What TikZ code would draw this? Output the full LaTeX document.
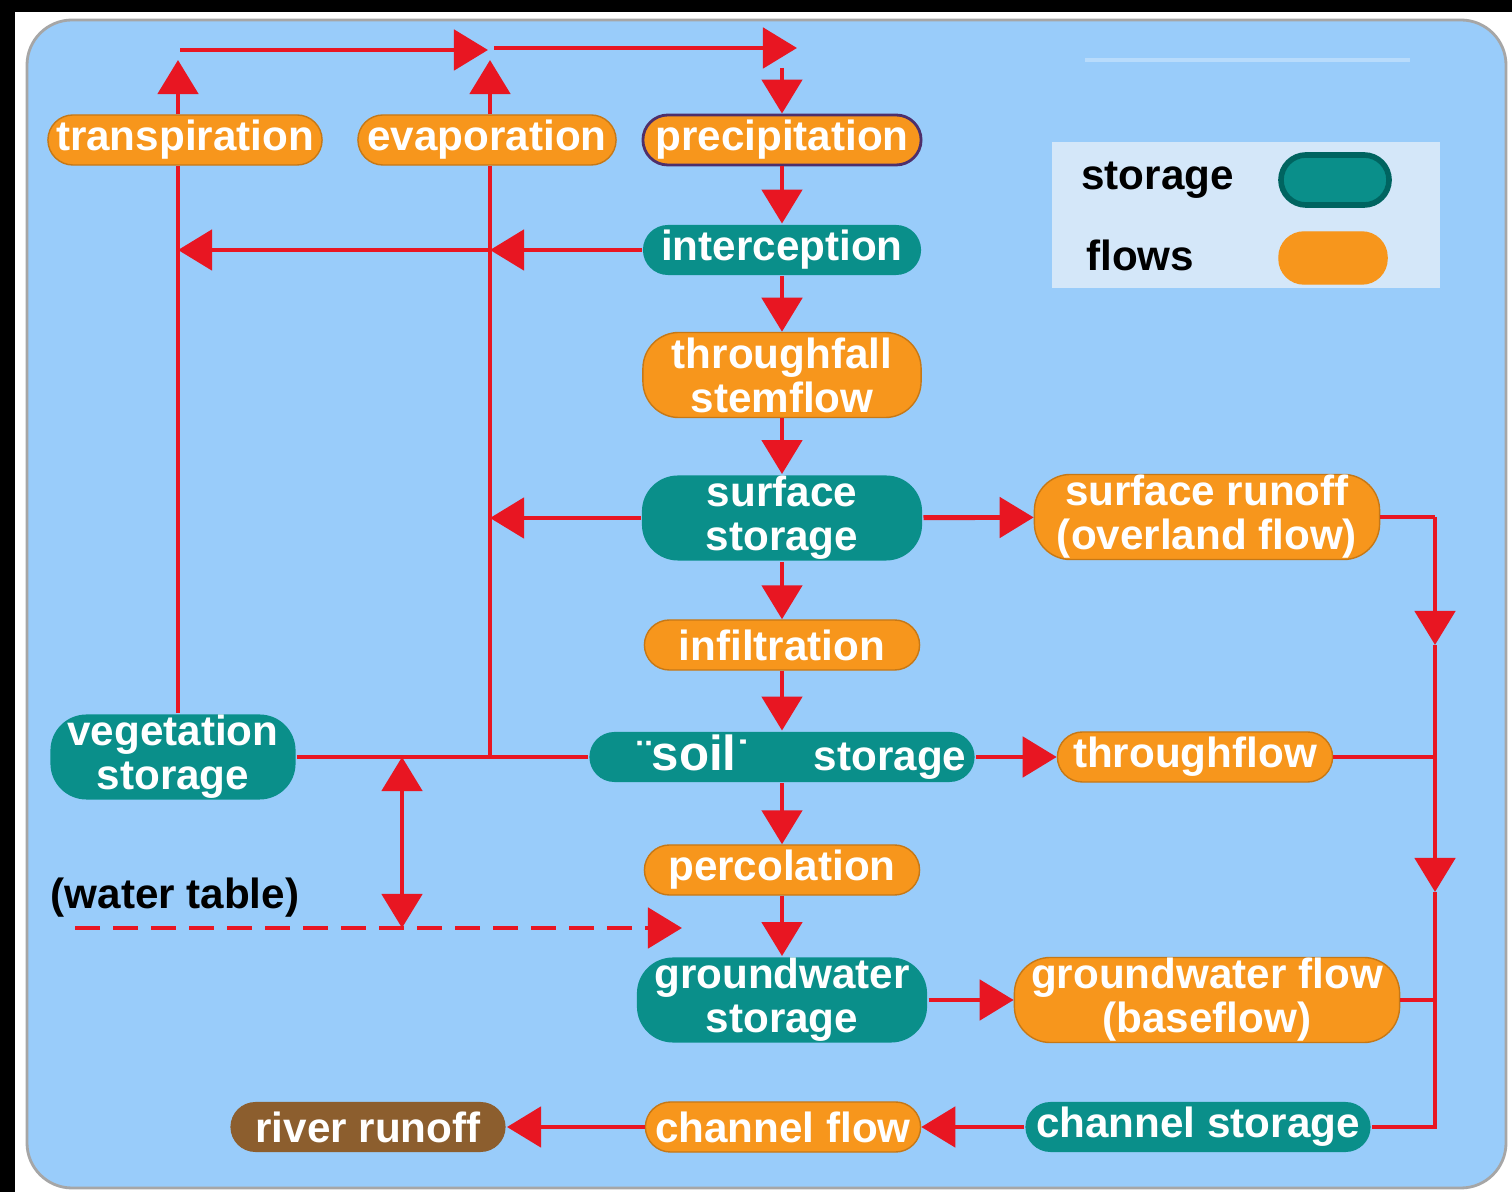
\documentclass[tikz,border=0pt]{standalone}
\usepackage{fontspec}
\setmainfont{Liberation Sans}
\usetikzlibrary{arrows.meta}
\definecolor{bgblue}{RGB}{153,204,250}
\definecolor{legbg}{RGB}{212,231,249}
\definecolor{storec}{RGB}{10,143,138}
\definecolor{storeln}{RGB}{0,100,96}
\definecolor{flowc}{RGB}{247,150,28}
\definecolor{sinkc}{RGB}{140,94,46}
\definecolor{flowred}{RGB}{232,22,34}

\begin{document}
\begin{tikzpicture}[x=0.01cm, y=-0.01cm, thick]
    \tikzset{
      box/.style={text=white, inner sep=0pt, align=center, rounded corners=0.25cm,
        minimum height=0.5cm, font=\fontsize{12}{12.5}\selectfont\bfseries},
      tall/.style={minimum height=0.85cm, rounded corners=0.36cm},
      store/.style={box, fill=storec},
      flow/.style={box, fill=flowc, draw=flowc!80!black, line width=0.4pt},
      sink/.style={box, fill=sinkc},
      keytext/.style={anchor=west, inner sep=0pt, font=\fontsize{12}{12.5}\selectfont\bfseries},
      wire/.style={draw=flowred, line width=1.4pt},
      arrow/.style={wire, -{Triangle[length=0.34cm, width=0.4cm]}},
      twoway/.style={wire, {Triangle[length=0.34cm, width=0.4cm]}-{Triangle[length=0.34cm, width=0.4cm]}},
    }
    \useasboundingbox (0,0) rectangle (1512,1192);
    % frame and panel
    \fill[white] (0,0) rectangle (1512,1192);
    \fill[black] (0,0) rectangle (1512,12);
    \fill[black] (0,0) rectangle (15,1192);
    \filldraw[fill=bgblue, draw=gray!70, rounded corners=0.45cm] (27,20) rectangle (1506,1188);
    \draw[bgblue!70!white, line width=1pt] (1085,60) -- (1410,60);

    % legend
    \node[fill=legbg, minimum width=3.88cm, minimum height=1.45cm, inner sep=0pt] (legend) at (1246,215) {};
    \node[keytext] (kstore) at (1080,180) {storage};
    \node[keytext] (kflow) at (1085,255) {flows};
    \node[store, draw=storeln, line width=1.6pt, minimum width=1.08cm, minimum height=0.5cm] (kstorebox) at (1335,180) {};
    \node[flow, draw=flowc, minimum width=1.08cm, minimum height=0.52cm] (kflowbox) at (1333,258) {};

    % nodes
    \node[flow, minimum width=2.74cm] (trans) at (185,140) {transpiration};
    \node[flow, minimum width=2.58cm] (evap) at (487,140) {evaporation};
    \node[flow, draw=blue!55!flowc!70!black, line width=0.8pt, minimum width=2.78cm] (prec) at (782,140) {precipitation};
    \node[store, minimum width=2.78cm] (intc) at (782,250) {interception};
    \node[flow, tall, minimum width=2.78cm] (thru) at (782,375) {throughfall\\stemflow};
    \node[store, tall, minimum width=2.8cm] (surf) at (782,518) {surface\\storage};
    \node[flow, tall, minimum width=3.45cm] (runoff) at (1207,517) {surface runoff\\(overland flow)};
    \node[flow, minimum width=2.75cm] (infl) at (782,645) {infiltration};
    \node[store, minimum width=3.85cm] (soil) at (782,757)
      {\hspace*{0.4cm}¨{\fontsize{14}{14}\selectfont soil}˙\hspace{1.5em}storage};
    \node[flow, minimum width=2.75cm] (thfl) at (1195,757) {throughflow};
    \node[store, tall, minimum width=2.45cm] (veg) at (173,757) {vegetation\\storage};
    \node[flow, minimum width=2.75cm] (perc) at (782,870) {percolation};
    \node[store, tall, minimum width=2.9cm] (gws) at (782,1000) {groundwater\\storage};
    \node[flow, tall, minimum width=3.85cm] (gwf) at (1207,1000) {groundwater flow\\(baseflow)};
    \node[sink, minimum width=2.75cm] (river) at (368,1127) {river runoff};
    \node[flow, minimum width=2.75cm] (chfl) at (783,1127) {channel flow};
    \node[store, minimum width=3.45cm] (chst) at (1198,1127) {channel storage};
    \node[keytext, anchor=center] (wt) at (175,898) {(water table)};

    % corner points of the connectors
    \coordinate (t1) at (178,60);
    \coordinate (t2) at (180,50);
    \coordinate (e1) at (490,60);
    \coordinate (e2) at (488,50);
    \coordinate (e3) at (494,48);
    \coordinate (p1) at (797,48);
    \coordinate (p2) at (782,68);
    \coordinate (sj) at (490,757);
    \coordinate (r1) at (1435,517);
    \coordinate (r2) at (1435,645);
    \coordinate (r3) at (1435,892);
    \coordinate (r4) at (1435,1127);
    \coordinate (d1) at (75,928);
    \coordinate (d2) at (682,928);
    \coordinate (w1) at (402,757);
    \coordinate (w2) at (402,928);

    % vertical chain
    \foreach \from/\to in {prec/intc, intc/thru, thru/surf, surf/infl, infl/soil, soil/perc, perc/gws}
      \draw[arrow] (\from.south) -- (\to.north);

    % atmosphere loop
    \draw[wire] (veg.north -| t1) -- (trans.south -| t1);
    \draw[arrow] (trans.north -| t1) -- (t1);
    \draw[wire] (sj) -- (evap.south -| e1);
    \draw[arrow] (evap.north -| e1) -- (e1);
    \draw[arrow] (t2) -- (e2);
    \draw[arrow] (e3) -- (p1);
    \draw[arrow] (p2) -- (prec.north);
    \draw[arrow] (intc.west) -- (intc.west -| e1);
    \draw[arrow] (intc.west -| e1) -- (intc.west -| t1);
    \draw[arrow] (surf.west) -- (surf.west -| e1);
    \draw[wire] (veg.east) -- (soil.west);

    % lateral flows
    \draw[arrow] (surf) -- (runoff);
    \draw[arrow] (soil) -- (thfl);
    \draw[arrow] (gws) -- (gwf);
    \draw[wire] (runoff.east) -- (r1);
    \draw[arrow] (r1) -- (r2);
    \draw[arrow] (r2) -- (r3);
    \draw[wire] (r3) -- (r4) -- (chst.east);
    \draw[wire] (thfl.east) -- (thfl.east -| r1);
    \draw[wire] (gwf.east) -- (gwf.east -| r1);
    \draw[arrow] (chst) -- (chfl);
    \draw[arrow] (chfl) -- (river);

    % water table
    \draw[arrow, dash pattern=on 0.25cm off 0.13cm] (d1) -- (d2);
    \draw[twoway] (w1) -- (w2);
\end{tikzpicture}
\end{document}
